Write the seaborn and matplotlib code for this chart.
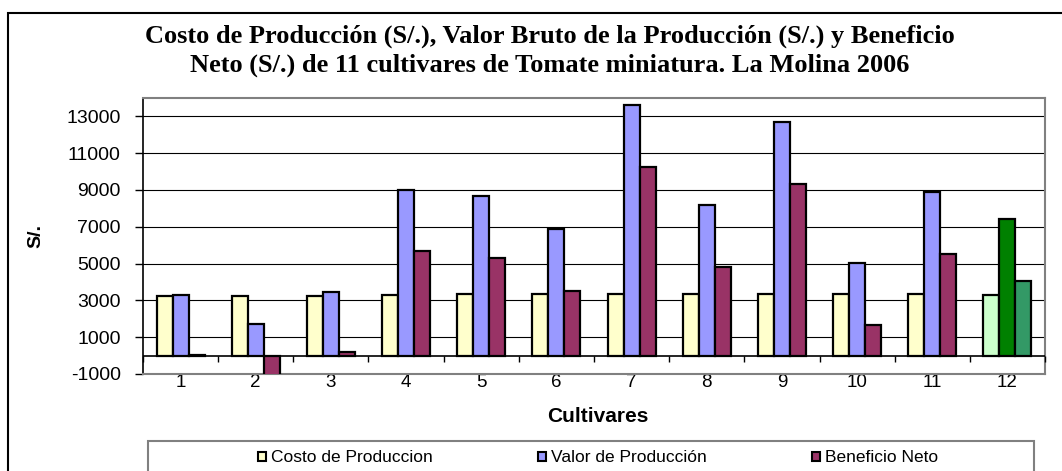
import numpy as np
import pandas as pd
import matplotlib
matplotlib.use("Agg")
import matplotlib.pyplot as plt
from matplotlib.patches import Patch, Rectangle
import seaborn as sns

# Data (S/.)
cultivares = [str(i) for i in range(1, 13)]
costo = [3260, 3240, 3240, 3280, 3330, 3330, 3330, 3330, 3330, 3330, 3330, 3300]
valor = [3300, 1700, 3440, 9000, 8680, 6870, 13620, 8190, 12680, 5020, 8910, 7410]
beneficio = [40, -1550, 200, 5710, 5330, 3510, 10270, 4840, 9330, 1650, 5540, 4080]

series = ["Costo de Produccion", "Valor de Producción", "Beneficio Neto"]
colors = ["#FFFFCC", "#9999FF", "#993366"]
colors_12 = ["#CCFFCC", "#008000", "#339966"]  # last cultivar highlighted
yticks = list(range(-1000, 14000, 2000))

titulo_1 = "Costo de Producción (S/.), Valor Bruto de la Producción (S/.) y Beneficio"
titulo_2 = "Neto (S/.) de 11 cultivares de Tomate miniatura. La Molina 2006"

df = pd.DataFrame({
    "Cultivar": cultivares * 3,
    "Serie": np.repeat(series, len(cultivares)),
    "Valor": costo + valor + beneficio,
})

sns.set_theme(style="white")
plt.rcParams["font.family"] = ["Liberation Sans", "DejaVu Sans"]
for k in ["text.color", "axes.labelcolor", "xtick.color", "ytick.color"]:
    plt.rcParams[k] = "black"

W, H = 1062, 471
fig = plt.figure(figsize=(W / 100, H / 100), dpi=100)
ax = fig.add_axes([143 / W, 1 - 374 / H, (1045 - 143) / W, (374 - 98) / H])

sns.barplot(data=df, x="Cultivar", y="Valor", hue="Serie", hue_order=series,
            palette=colors, width=0.64, edgecolor="black", linewidth=1.6,
            saturation=1, legend=False, ax=ax, zorder=3)

for cont, c12 in zip(ax.containers, colors_12):
    cont[len(cultivares) - 1].set_facecolor(c12)

ax.set_ylim(-1000, 14000)
ax.set_xlim(-0.5, len(cultivares) - 0.5)
ax.set_yticks(yticks)
ax.set_yticklabels([str(v) for v in yticks], fontsize=14)
ax.yaxis.grid(True, color="black", linewidth=0.8, zorder=0)
ax.set_axisbelow(True)

# x axis crosses at zero, with ticks between categories
ax.axhline(0, color="black", linewidth=1.2, zorder=4)
bounds = np.arange(len(cultivares) + 1) - 0.5
ax.vlines(bounds, -330, 0, color="black", linewidth=1.0, zorder=4, clip_on=False)

ax.tick_params(axis="x", length=0, pad=0, labelsize=13.5)
ax.tick_params(axis="y", length=6, width=1, direction="out", pad=10, left=True, color="black")
for s in ["top", "right", "bottom"]:
    ax.spines[s].set_color("#808080")
    ax.spines[s].set_linewidth(1.5)
ax.spines["left"].set_color("black")
ax.spines["left"].set_linewidth(1.2)

ax.set_xlabel("")
ax.set_ylabel("S/.", fontsize=14, fontweight="bold", labelpad=0)
ax.yaxis.set_label_coords((44 - 143) / (1045 - 143), 0.5)
fig.text(598 / W, 1 - 417 / H, "Cultivares", ha="center", va="center",
         fontsize=15, fontweight="bold")

serif = ["Liberation Serif", "DejaVu Serif"]
fig.text(550 / W, 1 - 43 / H, titulo_1, ha="center", va="baseline", fontsize=19,
         fontweight="bold", family=serif)
fig.text(550 / W, 1 - 72 / H, titulo_2, ha="center", va="baseline", fontsize=19,
         fontweight="bold", family=serif)

# outer chart frame (cut off at the right and bottom like the reference)
fig.patches.append(Rectangle((8 / W, -0.1), 1.2, 1 - 13 / H + 0.1, transform=fig.transFigure,
                             fill=False, edgecolor="black", linewidth=1.5))
# legend box
fig.patches.append(Rectangle((148 / W, -0.1), (1034 - 148) / W, 1 - 441 / H + 0.1,
                             transform=fig.transFigure, fill=False, edgecolor="#808080",
                             linewidth=1.5))

handles = [Patch(facecolor=c, edgecolor="black", linewidth=1.5) for c in colors]
fig.legend(handles, series, loc="center", bbox_to_anchor=(598 / W, 1 - 458 / H),
           ncol=3, frameon=False, fontsize=12.5, handlelength=0.46, handleheight=0.46,
           handletextpad=0.25, columnspacing=6.1, borderpad=0)

fig.savefig("out.png", dpi=100)
